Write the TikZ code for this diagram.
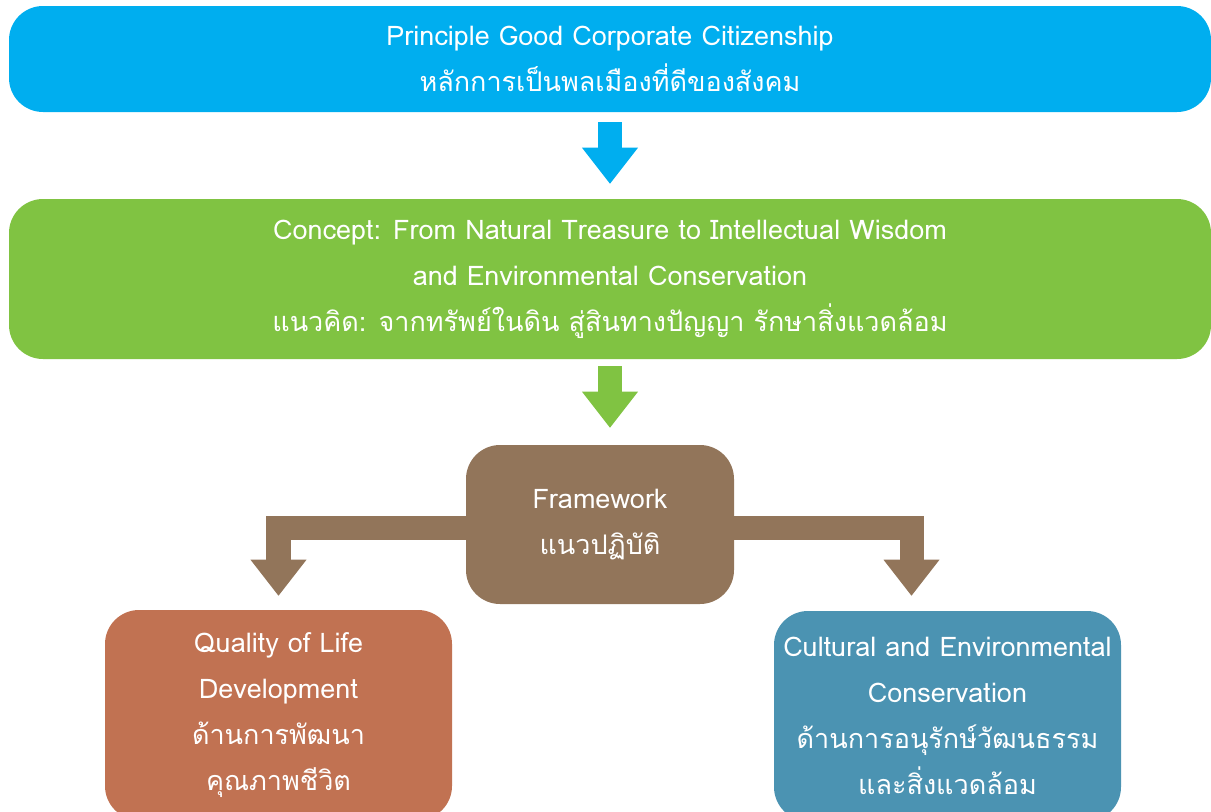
\documentclass[tikz,border=0pt]{standalone}
\usepackage{fontspec}
\setmainfont[Script=Thai]{Loma}
\usepackage{xcolor}
\usepackage{tikz}
\usetikzlibrary{arrows.meta}
\definecolor{citblue}{RGB}{0,174,239}
\definecolor{conceptgreen}{RGB}{128,195,66}
\definecolor{framebrown}{RGB}{146,117,90}
\definecolor{lifered}{RGB}{193,114,82}
\definecolor{cultblue}{RGB}{75,147,178}
\newcommand{\pxu}{0.025cm}

\begin{document}
\begin{tikzpicture}[x=0.025cm, y=-0.025cm,
    box/.style={rounded corners=0.85cm, inner sep=0pt, text=white, align=center,
      font=\fontsize{19.2}{32.7}\selectfont},
    blockarrow/.style={line width=0.6cm, -{Triangle[width=1.4cm, length=0.9cm, line width=0pt]}}]
    \useasboundingbox (0,0) rectangle (1211,811);
    \node [box, fill=citblue, minimum width=1202*\pxu, minimum height=106*\pxu] (cit) at (610,59)
      {Principle Good Corporate Citizenship\\หลักการเป็นพลเมืองที่ดีของสังคม};
    \node [box, fill=conceptgreen, minimum width=1202*\pxu, minimum height=160*\pxu] (concept) at (610,279)
      {Concept: From Natural Treasure to Intellectual Wisdom\\and Environmental Conservation\\แนวคิด: จากทรัพย์ในดิน สู่สินทางปัญญา รักษาสิ่งแวดล้อม};
    \node [box, fill=framebrown, minimum width=268*\pxu, minimum height=159*\pxu] (frame) at (600,524.5)
      {Framework\\แนวปฏิบัติ};
    \node [box, fill=lifered, minimum width=347*\pxu, minimum height=210*\pxu] (life) at (278.5,715)
      {Quality of Life\\Development\\ด้านการพัฒนา\\คุณภาพชีวิต};
    \node [box, fill=cultblue, minimum width=347*\pxu, minimum height=210*\pxu] (cult) at (947.5,716)
      {Cultural and Environmental\\Conservation\\ด้านการอนุรักษ์วัฒนธรรม\\และสิ่งแวดล้อม};
    \draw [blockarrow, citblue, shorten <=10*\pxu, shorten >=15*\pxu] (cit) -- (concept);
    \draw [blockarrow, conceptgreen, shorten <=7*\pxu, shorten >=17*\pxu] (concept.south) -- (concept.south |- frame.north);
    \draw [blockarrow, framebrown, shorten >=14*\pxu] ([yshift=-3*\pxu]frame.west) -| (life.north);
    \draw [blockarrow, framebrown, shorten >=15*\pxu] ([yshift=-3*\pxu]frame.east) -| ([xshift=-36*\pxu]cult.north);
\end{tikzpicture}
\end{document}
